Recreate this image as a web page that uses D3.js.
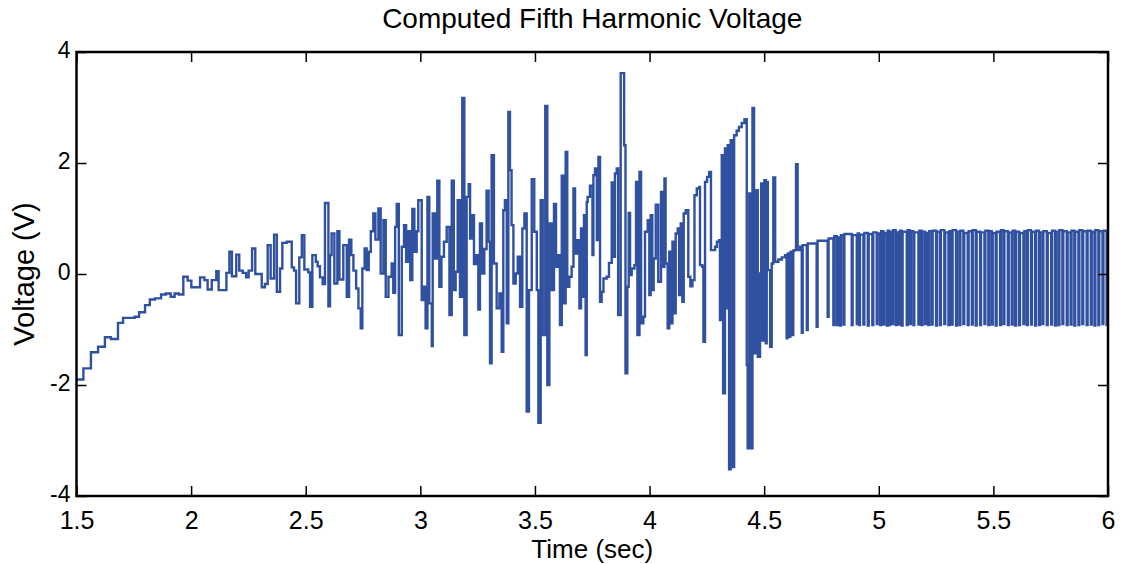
<!DOCTYPE html>
<html>
<head>
<meta charset="utf-8">
<script src="https://cdn.jsdelivr.net/npm/d3@7"></script>
<style>
  body { margin: 0; background: #fff; }
  text { font-family: "Liberation Sans", Arial, sans-serif; fill: #000; }
</style>
</head>
<body>
<div class="canvas"></div>
<script>
// axis ticks
const xTicks = [1.5, 2, 2.5, 3, 3.5, 4, 4.5, 5, 5.5, 6];
const yTicks = [-4, -2, 0, 2, 4];

// slow rise, 1.5 - 2.27 s
const riseT = [1.5, 1.53, 1.563, 1.594, 1.624, 1.65, 1.681, 1.703, 1.754, 1.773, 1.799, 1.82, 1.842, 1.869, 1.89, 1.911, 1.928, 1.946, 1.966, 1.985, 2.001, 2.039, 2.058, 2.072, 2.09, 2.11, 2.12, 2.135, 2.154, 2.167, 2.178, 2.197, 2.21, 2.225, 2.24, 2.251, 2.266];
const riseV = [-1.9, -1.7, -1.41, -1.31, -1.14, -1.17, -0.88, -0.79, -0.77, -0.69, -0.56, -0.46, -0.44, -0.37, -0.35, -0.41, -0.35, -0.37, -0.05, -0.12, -0.24, -0.06, -0.11, -0.28, -0.11, 0.05, -0.29, -0.29, 0.02, 0.4, -0.04, 0.35, 0.06, 0.02, -0.06, 0.06, 0.46];

// growing oscillation, 2.28 - 3.0 s
const growT = [2.28, 2.308, 2.322, 2.334, 2.347, 2.362, 2.374, 2.388, 2.398, 2.417, 2.439, 2.449, 2.458, 2.472, 2.483, 2.494, 2.511, 2.519, 2.529, 2.544, 2.552, 2.562, 2.574, 2.584, 2.599, 2.606, 2.613, 2.625, 2.638, 2.647, 2.664, 2.679, 2.689, 2.699, 2.708, 2.72, 2.73, 2.74, 2.747, 2.757, 2.766, 2.775, 2.784, 2.795, 2.804, 2.817, 2.827, 2.839, 2.849, 2.861, 2.875, 2.882, 2.89, 2.897, 2.906, 2.919, 2.929, 2.938, 2.948, 2.956, 2.965, 2.974, 2.984, 2.991];
const growV = [0.0, -0.24, -0.18, 0.52, -0.08, 0.71, -0.32, 0.1, 0.56, 0.58, 0.12, 0.06, -0.53, 0.3, 0.7, 0.08, 0.03, -0.59, 0.34, 0.22, 0.14, -0.06, -0.18, 1.28, -0.58, 0.34, 0.73, -0.17, 0.77, -0.1, 0.52, -0.41, 0.62, 0.34, 0.06, -0.26, -0.62, -0.98, 0.1, 0.46, 0.07, 0.4, 0.77, 1.09, 0.62, 1.18, 0.01, 0.97, -0.41, -0.05, 0.19, -0.34, 0.85, 1.26, -1.1, 0.49, 0.88, 0.22, 0.77, -0.11, 1.17, 0.4, 0.77, 1.33];

// large bursts, 3.0 - 3.72 s
const burstT = [3.006, 3.016, 3.023, 3.031, 3.039, 3.05, 3.054, 3.064, 3.074, 3.083, 3.092, 3.103, 3.115, 3.127, 3.137, 3.146, 3.154, 3.163, 3.173, 3.183, 3.192, 3.202, 3.211, 3.217, 3.225, 3.234, 3.243, 3.253, 3.26, 3.269, 3.279, 3.289, 3.298, 3.304, 3.311, 3.321, 3.333, 3.345, 3.355, 3.362, 3.369, 3.377, 3.384, 3.391, 3.398, 3.406, 3.416, 3.425, 3.435, 3.445, 3.454, 3.464, 3.474, 3.486, 3.497, 3.508, 3.515, 3.525, 3.534, 3.545, 3.554, 3.563, 3.573, 3.583, 3.592, 3.602, 3.609, 3.617, 3.627, 3.634, 3.641, 3.65, 3.66, 3.668, 3.675, 3.685, 3.694, 3.701, 3.708, 3.714, 3.721];
const burstV = [-0.47, -0.23, -0.98, 1.39, -0.53, -1.3, 1.09, 0.28, 1.68, -0.23, 0.31, 0.58, 0.85, -0.74, 1.68, -0.29, 0.04, 1.33, -0.41, 3.17, -1.1, 1.39, 1.62, 0.64, 1.06, 0.18, 0.34, -0.64, 0.91, 0.01, 0.45, 1.5, 0.58, -1.61, 2.14, 0.19, -0.62, -0.35, -1.4, 1.15, 1.33, -0.89, 2.92, 1.87, 0.88, -0.17, 0.01, 0.31, -0.59, 0.82, 1.09, -2.48, -0.29, 1.71, 0.76, -0.29, -2.68, 1.33, -1.1, 3.03, -2.0, 0.91, -0.29, 1.26, 0.13, 0.34, -0.92, 1.77, -0.53, 2.2, -0.23, -0.05, 0.13, 1.54, 0.37, 0.61, -0.62, 0.82, -0.41, 1.06, -1.46];

// peak region, 3.72 - 4.65 s
const peakT = [3.726, 3.73, 3.74, 3.751, 3.755, 3.762, 3.77, 3.777, 3.784, 3.791, 3.799, 3.813, 3.823, 3.835, 3.842, 3.849, 3.857, 3.863, 3.874, 3.889, 3.895, 3.903, 3.909, 3.915, 3.922, 3.934, 3.941, 3.947, 3.956, 3.963, 3.973, 3.98, 3.992, 3.999, 4.005, 4.012, 4.018, 4.027, 4.038, 4.05, 4.056, 4.065, 4.07, 4.079, 4.086, 4.094, 4.1, 4.108, 4.114, 4.123, 4.129, 4.136, 4.143, 4.149, 4.158, 4.169, 4.178, 4.187, 4.196, 4.206, 4.217, 4.22, 4.23, 4.235, 4.242, 4.251, 4.26, 4.268, 4.286, 4.294, 4.303, 4.307, 4.315, 4.321, 4.329, 4.337, 4.341, 4.347, 4.354, 4.361, 4.369, 4.38, 4.39, 4.402, 4.414, 4.424, 4.428, 4.435, 4.443, 4.449, 4.456, 4.463, 4.472, 4.482, 4.487, 4.492, 4.501, 4.507, 4.511, 4.516, 4.526, 4.533, 4.54, 4.548, 4.562, 4.577, 4.591, 4.598, 4.602, 4.606, 4.61, 4.614, 4.617, 4.623, 4.627, 4.632, 4.639, 4.646, 4.657];
const peakV = [1.3, 1.39, 1.59, 0.34, 1.78, 1.9, 0.61, 2.11, -0.5, -0.32, -0.08, -0.05, 0.2, 1.65, 0.31, 1.81, 1.9, -0.74, 3.62, 2.32, -1.79, -0.23, 1.1, -0.02, 0.1, 0.16, 1.66, -1.1, 1.84, -0.89, -0.77, 0.76, 0.97, -0.38, 1.06, -0.29, 0.28, 1.25, -0.14, 1.48, 0.13, 1.72, 0.19, -0.98, 0.4, -0.89, 0.58, -0.71, 0.73, 0.82, -0.38, 0.91, -0.5, 1.09, 1.15, -0.05, -0.22, -0.11, 1.42, 1.54, 1.57, 0.16, 0.13, -1.22, 1.66, 1.75, 1.84, 0.43, 0.49, 0.58, 0.61, -0.83, 2.14, -2.15, 2.26, -0.62, 2.32, -3.52, 2.41, -3.48, 2.5, 2.58, 2.65, 2.72, 2.79, -1.64, -3.14, 1.45, -3.14, 2.99, -1.43, 1.51, -1.49, 0.01, 1.63, -1.2, 1.69, -1.25, 1.66, 0.07, -1.31, 0.19, 1.74, 0.22, 0.26, 0.3, 0.34, -1.16, 0.36, 0.37, -1.13, 0.39, 0.4, -1.1, 0.42, 0.43, 1.98, 0.43, 0.49];

// settled switching, 4.66 - 6 s: dip / recover pairs
const tailT = [4.664, 4.668, 4.686, 4.69, 4.729, 4.733, 4.777, 4.781, 4.802, 4.806, 4.817, 4.821, 4.831, 4.835, 4.846, 4.85, 4.882, 4.886, 4.904, 4.908, 4.914, 4.918, 4.933, 4.937, 4.952, 4.956, 4.972, 4.976, 4.991, 4.995, 5.006, 5.01, 5.02, 5.024, 5.035, 5.039, 5.045, 5.049, 5.059, 5.063, 5.074, 5.078, 5.088, 5.092, 5.1, 5.104, 5.122, 5.126, 5.136, 5.14, 5.151, 5.155, 5.173, 5.177, 5.187, 5.191, 5.202, 5.206, 5.216, 5.22, 5.231, 5.235, 5.25, 5.254, 5.267, 5.271, 5.286, 5.29, 5.304, 5.308, 5.318, 5.322, 5.337, 5.341, 5.352, 5.356, 5.369, 5.373, 5.388, 5.392, 5.406, 5.41, 5.423, 5.427, 5.442, 5.446, 5.461, 5.465, 5.478, 5.482, 5.493, 5.497, 5.51, 5.514, 5.529, 5.533, 5.544, 5.548, 5.563, 5.567, 5.58, 5.584, 5.595, 5.599, 5.612, 5.616, 5.631, 5.635, 5.646, 5.65, 5.664, 5.668, 5.682, 5.686, 5.699, 5.703, 5.714, 5.718, 5.733, 5.737, 5.752, 5.756, 5.769, 5.773, 5.784, 5.788, 5.801, 5.805, 5.82, 5.824, 5.837, 5.841, 5.853, 5.857, 5.871, 5.875, 5.888, 5.892, 5.907, 5.911, 5.925, 5.929, 5.941, 5.945, 5.958, 5.962, 5.976, 5.98, 5.994, 5.998];
const tailV = [-1.06, 0.52, -1.01, 0.55, -0.95, 0.6, -0.77, 0.64, -0.92, 0.68, -0.92, 0.66, -0.93, 0.7, -0.91, 0.72, -0.92, 0.7, -0.9, 0.73, -0.92, 0.71, -0.91, 0.74, -0.93, 0.72, -0.92, 0.75, -0.9, 0.73, -0.92, 0.77, -0.91, 0.74, -0.93, 0.78, -0.92, 0.76, -0.9, 0.79, -0.92, 0.75, -0.91, 0.78, -0.93, 0.76, -0.92, 0.79, -0.9, 0.77, -0.92, 0.75, -0.91, 0.78, -0.92, 0.76, -0.9, 0.74, -0.92, 0.77, -0.91, 0.78, -0.93, 0.76, -0.92, 0.79, -0.9, 0.75, -0.92, 0.77, -0.91, 0.79, -0.93, 0.76, -0.92, 0.78, -0.9, 0.74, -0.92, 0.77, -0.91, 0.79, -0.93, 0.76, -0.92, 0.75, -0.9, 0.78, -0.92, 0.77, -0.91, 0.74, -0.93, 0.76, -0.92, 0.79, -0.9, 0.77, -0.92, 0.75, -0.91, 0.78, -0.93, 0.76, -0.92, 0.74, -0.9, 0.77, -0.92, 0.79, -0.91, 0.76, -0.93, 0.78, -0.92, 0.75, -0.9, 0.77, -0.92, 0.74, -0.91, 0.78, -0.93, 0.76, -0.92, 0.79, -0.9, 0.77, -0.92, 0.75, -0.91, 0.78, -0.93, 0.76, -0.92, 0.79, -0.9, 0.77, -0.92, 0.78, -0.91, 0.76, -0.93, 0.79, -0.92, 0.77, -0.9, 0.78, -0.92, 0.76];

const times = [...riseT, ...growT, ...burstT, ...peakT, ...tailT];
const volts = [...riseV, ...growV, ...burstV, ...peakV, ...tailV];
const data = times.map((t, i) => ({t: t, v: volts[i]}));

const svg = d3.select('.canvas')
    .append('svg')
        .attr('width', 1124)
        .attr('height', 564);

const margin = {top: 52, right: 16, bottom: 68, left: 76.5};
const graphWidth = 1124 - margin.left - margin.right;
const graphHeight = 564 - margin.top - margin.bottom;

const graph = svg.append('g')
    .attr('transform', `translate(${margin.left}, ${margin.top})`);

const x = d3.scaleLinear()
    .domain([1.5, 6])
    .range([0, graphWidth]);

const y = d3.scaleLinear()
    .domain([-4, 4])
    .range([graphHeight, 0]);

// clip the trace to the plot box
graph.append('clipPath').attr('id', 'box')
    .append('rect')
        .attr('width', graphWidth)
        .attr('height', graphHeight);

const line = d3.line()
    .x(d => x(d.t))
    .y(d => y(d.v))
    .curve(d3.curveStepAfter);

graph.append('path')
    .datum(data)
    .attr('clip-path', 'url(#box)')
    .attr('fill', 'none')
    .attr('stroke', '#3050a0')
    .attr('stroke-width', 2.4)
    .attr('stroke-linejoin', 'miter')
    .attr('d', line);

// axes: ticks point inward, mirrored on top and right
const tickLen = 10;
const xAxis = d3.axisBottom(x).tickValues(xTicks).tickSizeInner(-tickLen).tickSizeOuter(0).tickPadding(15).tickFormat(d => String(d));
const yAxis = d3.axisLeft(y).tickValues(yTicks).tickSizeInner(-tickLen).tickSizeOuter(0).tickPadding(6).tickFormat(d => String(d));
const xTop = d3.axisTop(x).tickValues(xTicks).tickSizeInner(-tickLen).tickSizeOuter(0).tickFormat('');
const yRight = d3.axisRight(y).tickValues(yTicks).tickSizeInner(-tickLen).tickSizeOuter(0).tickFormat('');

const xAxisGroup = graph.append('g').attr('transform', `translate(0, ${graphHeight})`).call(xAxis);
const yAxisGroup = graph.append('g').call(yAxis);
graph.append('g').call(xTop);
graph.append('g').attr('transform', `translate(${graphWidth}, 0)`).call(yRight);

graph.selectAll('.domain').remove();
graph.selectAll('.tick line').attr('stroke', '#000').attr('stroke-width', 1.5);

xAxisGroup.selectAll('text')
    .attr('font-size', 25)
    .attr('font-family', '"Liberation Sans", Arial, sans-serif')
    .attr('fill', '#000');
yAxisGroup.selectAll('text')
    .attr('font-size', 23)
    .attr('dy', '0.22em')
    .attr('font-family', '"Liberation Sans", Arial, sans-serif')
    .attr('fill', '#000');

// plot frame
graph.append('rect')
    .attr('width', graphWidth)
    .attr('height', graphHeight)
    .attr('fill', 'none')
    .attr('stroke', '#000')
    .attr('stroke-width', 2.5);

// labels
svg.append('text')
    .attr('x', margin.left + graphWidth / 2)
    .attr('y', 28)
    .attr('text-anchor', 'middle')
    .attr('font-size', 28)
    .text('Computed Fifth Harmonic Voltage');

svg.append('text')
    .attr('x', margin.left + graphWidth / 2)
    .attr('y', 558.2)
    .attr('text-anchor', 'middle')
    .attr('font-size', 26)
    .text('Time (sec)');

svg.append('text')
    .attr('transform', `translate(34, ${margin.top + graphHeight / 2}) rotate(-90)`)
    .attr('text-anchor', 'middle')
    .attr('font-size', 29)
    .text('Voltage (V)');
</script>
</body>
</html>
